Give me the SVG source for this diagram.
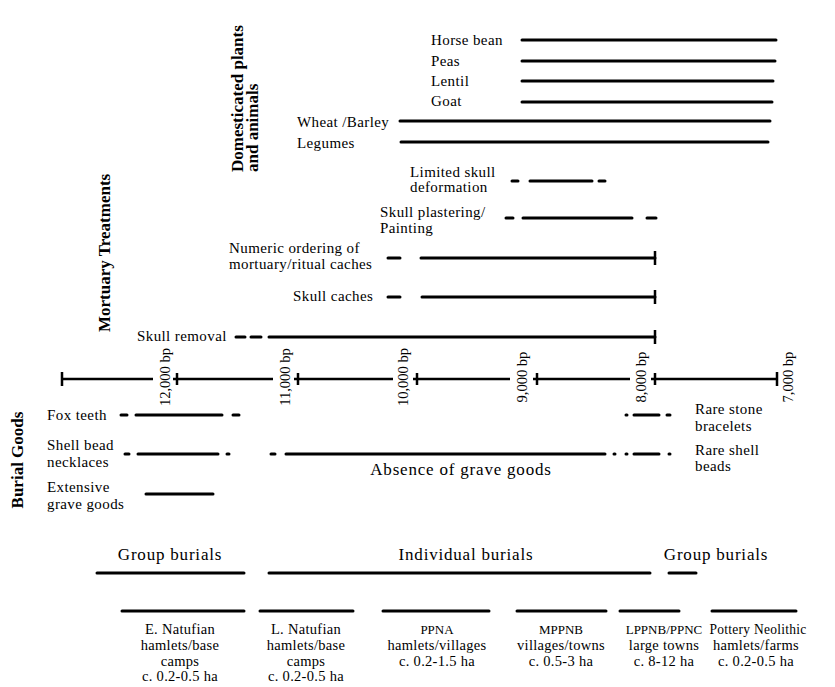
<svg xmlns="http://www.w3.org/2000/svg" width="835" height="687" viewBox="0 0 835 687">
<style>
.bg{fill:#fff}
.bar{stroke:#000;stroke-width:3;stroke-linecap:round;fill:none}
.ax{stroke:#000;stroke-width:2.5;fill:none}
.t{font-family:"Liberation Serif","DejaVu Serif",serif;font-size:15px;letter-spacing:0.4px;fill:#000}
.s{font-family:"Liberation Serif","DejaVu Serif",serif;font-size:14.5px;letter-spacing:0.3px;fill:#000}
.cap{font-family:"Liberation Serif","DejaVu Serif",serif;font-size:13px;fill:#000}
.al{font-family:"Liberation Serif","DejaVu Serif",serif;font-size:14.5px;fill:#000}
.h{font-family:"Liberation Serif","DejaVu Serif",serif;font-size:17px;font-weight:bold;fill:#000}
.big{font-family:"Liberation Serif","DejaVu Serif",serif;font-size:17px;letter-spacing:0.8px;fill:#000}
.m{text-anchor:middle}
</style>
<rect class="bg" width="835" height="687"/>

<g id="heading-domesticated">
<text class="h" transform="translate(243,172) rotate(-90)">Domesticated plants</text>
<text class="h" transform="translate(258,172) rotate(-90)">and animals</text>
</g>
<g id="heading-mortuary">
<text class="h" transform="translate(110,332) rotate(-90)">Mortuary Treatments</text>
</g>
<g id="heading-burial">
<text class="h m" transform="translate(23,460) rotate(-90)">Burial Goods</text>
</g>

<g id="horse-bean"><text class="t" x="431" y="45">Horse bean</text></g>
<g id="peas"><text class="t" x="431" y="66">Peas</text></g>
<g id="lentil"><text class="t" x="431" y="86">Lentil</text></g>
<g id="goat"><text class="t" x="431" y="106">Goat</text></g>
<g id="wheat-barley"><text class="t" x="297" y="127">Wheat /Barley</text></g>
<g id="legumes"><text class="t" x="297" y="148">Legumes</text></g>

<g id="limited-skull"><text class="t" x="410" y="177">Limited skull</text><text class="t" x="410" y="192">deformation</text></g>
<g id="skull-plastering"><text class="t" x="380" y="217">Skull plastering/</text><text class="t" x="380" y="233">Painting</text></g>
<g id="numeric-ordering"><text class="t" x="229" y="253">Numeric ordering of</text><text class="t" x="229" y="269">mortuary/ritual caches</text></g>
<g id="skull-caches"><text class="t" x="293" y="301">Skull caches</text></g>
<g id="skull-removal"><text class="t" x="137" y="341">Skull removal</text></g>

<g id="axis">
<path class="ax" d="M62 379H153M62 372V386M173 379H273M177 373V385M294 379H393M298 373V385M413 379H510M417 373V385M533 379H630M537 373V385M651 379H777M655 373V385M777 372V386"/>
<text class="al m" transform="translate(170,377) rotate(-90)">12,000 bp</text>
<text class="al m" transform="translate(290,377) rotate(-90)">11,000 bp</text>
<text class="al m" transform="translate(408,377) rotate(-90)">10,000 bp</text>
<text class="al m" transform="translate(527,377) rotate(-90)">9,000 bp</text>
<text class="al m" transform="translate(646,377) rotate(-90)">8,000 bp</text>
<text class="al m" transform="translate(793,377) rotate(-90)">7,000 bp</text>
</g>

<g id="fox-teeth"><text class="t" x="47" y="420">Fox teeth</text></g>
<g id="shell-bead"><text class="t" x="47" y="450">Shell bead</text><text class="t" x="47" y="467">necklaces</text></g>
<g id="extensive"><text class="t" x="47" y="492">Extensive</text><text class="t" x="47" y="509">grave goods</text></g>
<g id="absence"><text class="big m" x="461" y="475">Absence of grave goods</text></g>
<g id="rare-stone"><text class="t" x="695" y="414">Rare stone</text><text class="t" x="695" y="431">bracelets</text></g>
<g id="rare-shell"><text class="t" x="695" y="455">Rare shell</text><text class="t" x="695" y="471">beads</text></g>

<g id="group-burials-1"><text class="big m" x="170" y="560">Group burials</text></g>
<g id="individual-burials"><text class="big m" x="466" y="560">Individual burials</text></g>
<g id="group-burials-2"><text class="big m" x="716" y="560">Group burials</text></g>

<g id="e-natufian"><text class="s m" x="180" y="634">E. Natufian</text><text class="s m" x="180" y="650">hamlets/base</text><text class="s m" x="180" y="666">camps</text><text class="s m" x="180" y="681">c. 0.2-0.5 ha</text></g>
<g id="l-natufian"><text class="s m" x="306" y="634">L. Natufian</text><text class="s m" x="306" y="650">hamlets/base</text><text class="s m" x="306" y="666">camps</text><text class="s m" x="306" y="681">c. 0.2-0.5 ha</text></g>
<g id="ppna"><text class="cap m" x="437" y="634">PPNA</text><text class="s m" x="437" y="650">hamlets/villages</text><text class="s m" x="437" y="666">c. 0.2-1.5 ha</text></g>
<g id="mppnb"><text class="cap m" x="561" y="634">MPPNB</text><text class="s m" x="561" y="650">villages/towns</text><text class="s m" x="561" y="666">c. 0.5-3 ha</text></g>
<g id="lppnb"><text class="cap m" x="664" y="634">LPPNB/PPNC</text><text class="s m" x="664" y="650">large towns</text><text class="s m" x="664" y="666">c. 8-12 ha</text></g>
<g id="pottery-neolithic"><text class="s m" x="758" y="634" textLength="97" lengthAdjust="spacingAndGlyphs">Pottery Neolithic</text><text class="s m" x="756" y="650">hamlets/farms</text><text class="s m" x="756" y="666">c. 0.2-0.5 ha</text></g>

<g id="connectors">
<path class="bar" d="M522 40H776M522 61H775M522 81H773M522 102H772M400 121H770M401 142H768"/>
<path class="bar" d="M512 181H518M530 181H592M599 181H605"/>
<path class="bar" d="M506 218H513M523 218H632M647 218H656"/>
<path class="bar" d="M388 258H400M421 258H655M388 297H400M422 297H655M236 337H245M251 337H261M269 337H655"/>
<path class="ax" d="M655 251V265M655 290V304M655 330V344"/>
<path class="bar" d="M121 415H127M136 415H222M233 415H239"/>
<path class="bar" d="M125 454H129M138 454H218M227 454H229M271 454H275M286 454H605M614 454H615M626 454H627M634 454H659M669 454H670"/>
<path class="bar" d="M146 494H213"/>
<path class="bar" d="M626 415H627M634 415H659M667 415H670"/>
<path class="bar" d="M97 573H244M269 573H650M669 573H696"/>
<path class="bar" d="M122 611H244M260 611H353M383 611H489M517 611H606M620 611H679M712 611H796"/>
</g>
</svg>
